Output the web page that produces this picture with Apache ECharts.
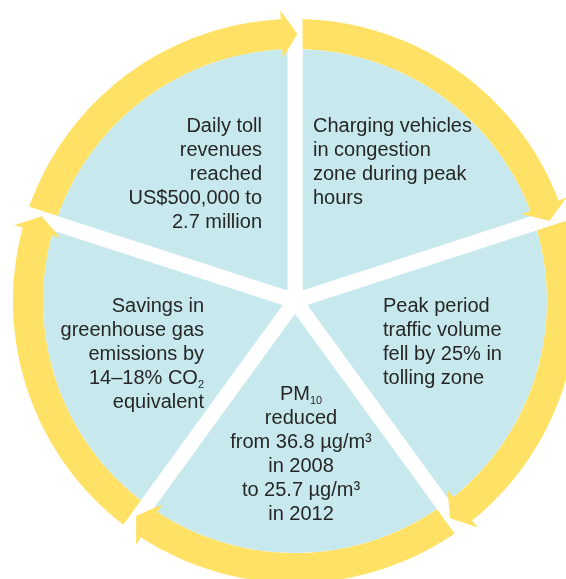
<!DOCTYPE html>
<html>
<head>
<meta charset="utf-8">
<script src="https://cdn.jsdelivr.net/npm/echarts@6/dist/echarts.min.js"></script>
<style>html,body{margin:0;padding:0;background:#fff}#c{width:566px;height:579px}</style>
</head>
<body>
<div id="c"></div>
<script>
// ---- data ----
const categories = [
  'Charging vehicles',
  'Peak period traffic volume',
  'PM10 reduced',
  'Savings in greenhouse gas emissions',
  'Daily toll revenues'
];
const values = [1, 1, 1, 1, 1];
const labelLines = [
  ['Charging vehicles', 'in congestion', 'zone during peak', 'hours'],
  ['Peak period', 'traffic volume', 'fell by 25% in', 'tolling zone'],
  ['PM_10', 'reduced', 'from 36.8 µg/m³', 'in 2008', 'to 25.7 µg/m³', 'in 2012'],
  ['Savings in', 'greenhouse gas', 'emissions by', '14–18% CO_2', 'equivalent'],
  ['Daily toll', 'revenues', 'reached', 'US$500,000 to', '2.7 million']
];

// ---- layout / style ----
const CX = 295, CY = 301;
const R_IN = 252, R_OUT = 282, GAP = 15, HEAD = 9;
const BLUE = '#C7E9EE', YELLOW = '#FFE265', TEXT = '#262626';
const FONT = '"Liberation Sans", Arial, Helvetica, sans-serif';
const labelPos = [
  { x: 313, y: 162, align: 'left' },
  { x: 383, y: 342, align: 'left' },
  { x: 301, y: 454, align: 'center' },
  { x: 204, y: 354, align: 'right' },
  { x: 262, y: 174, align: 'right' }
];

const total = values.reduce((a, b) => a + b, 0);
const bounds = [];
let acc = 0;
values.forEach(v => { const a0 = acc / total * 360; acc += v; bounds.push([a0, acc / total * 360]); });

const chart = echarts.init(document.getElementById('c'), null, { renderer: 'canvas' });
chart.setOption({
  animation: false,
  backgroundColor: '#fff',
  polar: { center: [CX, CY], radius: [0, 300] },
  angleAxis: { type: 'value', min: 0, max: 360, startAngle: 90, clockwise: true, show: false },
  radiusAxis: { type: 'value', min: 0, max: 300, show: false },
  series: [
    {
      type: 'pie',
      z: 2,
      silent: true,
      center: [CX, CY],
      radius: [0, R_IN + GAP / 2],
      startAngle: 90,
      clockwise: true,
      avoidLabelOverlap: false,
      emphasis: { disabled: true },
      itemStyle: { color: BLUE, borderColor: '#fff', borderWidth: GAP, borderJoin: 'miter' },
      label: {
        show: true,
        position: 'inside',
        color: TEXT,
        formatter: p => labelLines[p.dataIndex].map(l => {
          const m = l.split('_');
          return m.length > 1 ? '{t|' + m[0] + '}{s|' + m[1] + '}' : '{t|' + l + '}';
        }).join('\n'),
        rich: {
          t: { fontSize: 20, lineHeight: 24, color: TEXT, fontFamily: FONT },
          s: { fontSize: 11, lineHeight: 24, color: TEXT, fontFamily: FONT, verticalAlign: 'bottom' }
        }
      },
      labelLine: { show: false },
      labelLayout: p => {
        const q = labelPos[p.dataIndex];
        return { x: q.x, y: q.y, align: q.align, verticalAlign: 'middle' };
      },
      data: categories.map((n, i) => ({ name: n, value: values[i] }))
    },
    {
      type: 'custom',
      coordinateSystem: 'polar',
      z: 5,
      silent: true,
      data: bounds,
      renderItem: (params, api) => {
        const a0 = api.value(0), a1 = api.value(1);
        const off = r => Math.asin(GAP / 2 / r) * 180 / Math.PI;
        const tip = a1 + 0.5, base = a1 - 2.9;
        const sOut = a0 + off(R_OUT), sIn = a0 + off(R_IN);
        const N = 80, pts = [];
        for (let k = 0; k <= N; k++) pts.push(api.coord([R_OUT, sOut + (base - sOut) * k / N]));
        pts.push(api.coord([R_OUT + HEAD, base]));
        pts.push(api.coord([(R_IN + R_OUT) / 2, tip]));
        pts.push(api.coord([R_IN - HEAD, base]));
        for (let k = N; k >= 0; k--) pts.push(api.coord([R_IN, sIn + (base - sIn) * k / N]));
        return { type: 'polygon', shape: { points: pts }, style: { fill: YELLOW } };
      }
    }
  ]
});
</script>
</body>
</html>
